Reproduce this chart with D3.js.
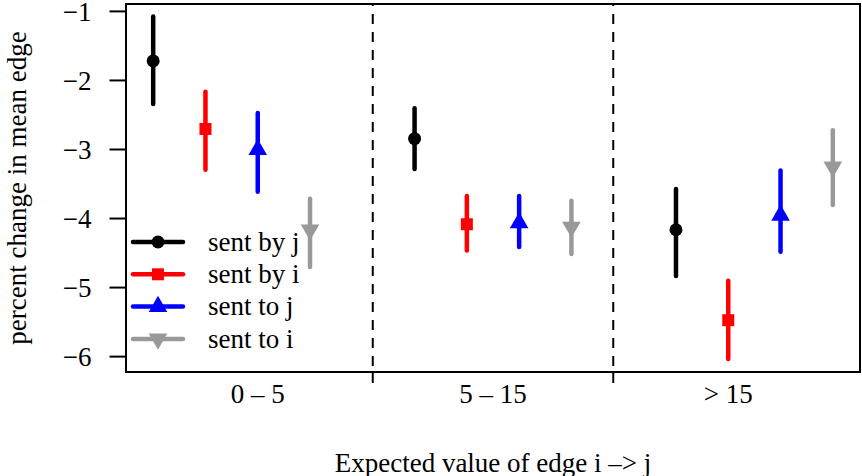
<!DOCTYPE html>
<html>
<head>
<meta charset="utf-8">
<script src="https://cdn.jsdelivr.net/npm/d3@7"></script>
<style>
  body { margin: 0; background: #fff; }
  svg text { font-family: "Liberation Serif", "Times New Roman", serif; }
</style>
</head>
<body>
<div id="vis"></div>
<script>
// categories and series
var groups = ["0 \u2013 5", "5 \u2013 15", "> 15"];
var groupLabelPos = [3, 7.5, 12];
var dividerPos = [5.2, 9.8];
var seriesNames = ["sent by j", "sent by i", "sent to j", "sent to i"];
var seriesColors = ["#000000", "#ff0000", "#0000ff", "#999999"];
var seriesShapes = ["circle", "square", "up", "down"];

// estimates and interval ends, one value per group
var sentByJ = [-1.725, -2.85, -4.17];
var sentByJLo = [-2.35, -3.29, -4.84];
var sentByJHi = [-1.08, -2.41, -3.58];

var sentByI = [-2.71, -4.09, -5.48];
var sentByILo = [-3.30, -4.47, -6.04];
var sentByIHi = [-2.17, -3.68, -4.91];

var sentToJ = [-3.01, -4.07, -3.96];
var sentToJLo = [-3.62, -4.42, -4.49];
var sentToJHi = [-2.48, -3.68, -3.31];

var sentToI = [-4.17, -4.13, -3.26];
var sentToILo = [-4.71, -4.52, -3.81];
var sentToIHi = [-3.72, -3.75, -2.73];

var yTicks = [-1, -2, -3, -4, -5, -6];

var est = [sentByJ, sentByI, sentToJ, sentToI];
var lo = [sentByJLo, sentByILo, sentToJLo, sentToILo];
var hi = [sentByJHi, sentByIHi, sentToJHi, sentToIHi];

// flat table for binding
var points = [];
groups.forEach(function(g, gi) {
  seriesNames.forEach(function(s, si) {
    points.push({group: gi, series: si, pos: gi * 5 + si + 1,
                 est: est[si][gi], lo: lo[si][gi], hi: hi[si][gi]});
  });
});

var width = 862, height = 476;
var plot = {left: 126, right: 860, top: 4, bottom: 372};
var fontSize = 27;

var svg = d3.select("#vis").append("svg")
  .attr("width", width).attr("height", height);

var x = d3.scaleLinear().domain([0.48, 14.52]).range([plot.left, plot.right]);
var y = d3.scaleLinear().domain([-6.23, -0.9]).range([plot.bottom, plot.top]);

var symbolFor = {
  circle: d3.symbol().type(d3.symbolCircle).size(Math.PI * 6.5 * 6.5),
  square: d3.symbol().type(d3.symbolSquare).size(12 * 12),
  up: d3.symbol().type(d3.symbolTriangle).size(150)
};

function drawMarker(g, shape, color) {
  if (shape === "down") {
    g.append("path").attr("d", symbolFor.up()).attr("transform", "rotate(180)")
      .attr("fill", color);
  } else {
    g.append("path").attr("d", symbolFor[shape]()).attr("fill", color);
  }
}

// y axis
var yAxis = d3.axisLeft(y).tickValues(yTicks).tickSize(16).tickPadding(18)
  .tickFormat(function(d) { return "\u2212" + Math.abs(d); });
var yg = svg.append("g").attr("transform", "translate(" + (plot.left - 0.5) + ",0)").call(yAxis);
yg.attr("font-family", null);
yg.select(".domain").remove();
yg.selectAll("line").attr("stroke", "#000").attr("stroke-width", 2);
yg.selectAll("text").attr("font-size", fontSize).attr("fill", "#000").attr("dy", "0.34em");

// x axis ticks at dividers only
svg.selectAll(".xtick").data(dividerPos).enter().append("line")
  .attr("x1", function(d) { return x(d); }).attr("x2", function(d) { return x(d); })
  .attr("y1", plot.bottom).attr("y2", plot.bottom + 11)
  .attr("stroke", "#000").attr("stroke-width", 2);

svg.selectAll(".xlab").data(groups).enter().append("text")
  .attr("x", function(d, i) { return x(groupLabelPos[i]); })
  .attr("y", 394).attr("dy", "0.34em")
  .attr("text-anchor", "middle").attr("font-size", fontSize)
  .text(function(d) { return d; });

// dashed dividers
svg.selectAll(".divider").data(dividerPos).enter().append("line")
  .attr("x1", function(d) { return x(d); }).attr("x2", function(d) { return x(d); })
  .attr("y1", plot.top).attr("y2", plot.bottom)
  .attr("stroke", "#000").attr("stroke-width", 2).attr("stroke-dasharray", "10,8")
  .attr("stroke-dashoffset", -10);

// error bars
svg.selectAll(".bar").data(points).enter().append("line")
  .attr("x1", function(d) { return x(d.pos); }).attr("x2", function(d) { return x(d.pos); })
  .attr("y1", function(d) { return y(d.lo); }).attr("y2", function(d) { return y(d.hi); })
  .attr("stroke", function(d) { return seriesColors[d.series]; })
  .attr("stroke-width", 4.5).attr("stroke-linecap", "round");

// point markers
svg.selectAll(".pt").data(points).enter().append("g")
  .attr("transform", function(d) { return "translate(" + x(d.pos) + "," + y(d.est) + ")"; })
  .each(function(d) { drawMarker(d3.select(this), seriesShapes[d.series], seriesColors[d.series]); });

// plot box
svg.append("rect")
  .attr("x", plot.left).attr("y", plot.top)
  .attr("width", plot.right - plot.left).attr("height", plot.bottom - plot.top)
  .attr("fill", "none").attr("stroke", "#000").attr("stroke-width", 2);

// legend
var legend = svg.selectAll(".leg").data(seriesNames).enter().append("g")
  .attr("transform", function(d, i) { return "translate(0," + (242 + i * 32.3) + ")"; });
legend.append("line").attr("x1", 133).attr("x2", 183)
  .attr("stroke", function(d, i) { return seriesColors[i]; })
  .attr("stroke-width", 4.5).attr("stroke-linecap", "round");
legend.append("g").attr("transform", "translate(158,0)")
  .each(function(d, i) { drawMarker(d3.select(this), seriesShapes[i], seriesColors[i]); });
legend.append("text").attr("x", 208).attr("dy", "0.32em")
  .attr("font-size", fontSize).text(function(d) { return d; });

// axis titles
svg.append("text")
  .attr("transform", "translate(26," + ((plot.top + plot.bottom) / 2) + ") rotate(-90)")
  .attr("text-anchor", "middle").attr("font-size", fontSize)
  .text("percent change in mean edge");

svg.append("text")
  .attr("x", (plot.left + plot.right) / 2).attr("y", 463).attr("dy", "0.34em")
  .attr("text-anchor", "middle").attr("font-size", fontSize)
  .text("Expected value of edge i \u2013> j");
</script>
</body>
</html>
